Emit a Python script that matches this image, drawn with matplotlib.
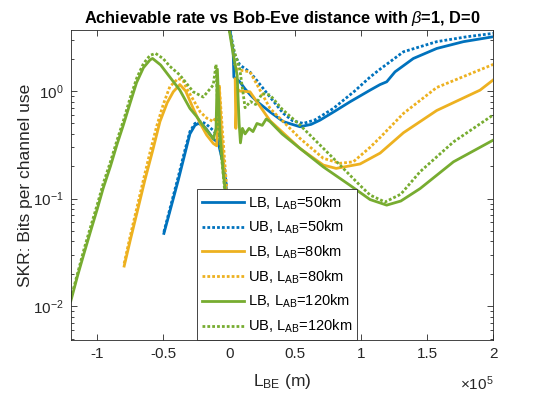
import numpy as np
import matplotlib
matplotlib.use('Agg')
import matplotlib.pyplot as plt
from matplotlib.ticker import FixedLocator, FuncFormatter, LogLocator, NullFormatter

plt.rcParams['font.family'] = ['Liberation Sans', 'DejaVu Sans']
plt.rcParams['mathtext.fontset'] = 'custom'
plt.rcParams['mathtext.rm'] = 'Liberation Sans'
plt.rcParams['mathtext.it'] = 'Liberation Sans:italic'

# x in units of 1e5 m, y in bits per channel use
# L_AB = 50 km
lb50_x_neg = [-0.495, -0.45, -0.386, -0.34, -0.298, -0.26, -0.235, -0.2, -0.171, -0.121, -0.083, -0.05, -0.02]
lb50_y_neg = [0.0475, 0.076, 0.149, 0.25, 0.40, 0.48, 0.50, 0.48, 0.44, 0.36, 0.33, 0.22, 0.12]
lb50_x_pos = [0.005, 0.03, 0.035, 0.06, 0.08, 0.119, 0.16, 0.21, 0.309, 0.41, 0.536, 0.62, 0.688, 0.8,
              0.915, 1.067, 1.143, 1.193, 1.256, 1.395, 1.572, 1.774, 2.0]
lb50_y_pos = [3.7, 2.3, 1.35, 1.28, 1.22, 1.05, 0.92, 0.80, 0.64, 0.52, 0.466, 0.49, 0.537, 0.65,
              0.795, 1.02, 1.15, 1.22, 1.51, 2.01, 2.49, 2.88, 3.2]
ub50_x_neg = [-0.495, -0.45, -0.386, -0.34, -0.298, -0.26, -0.22, -0.18, -0.121, -0.08, -0.05, -0.02]
ub50_y_neg = [0.049, 0.08, 0.16, 0.27, 0.42, 0.50, 0.52, 0.50, 0.43, 0.38, 0.25, 0.13]
ub50_x_pos = [0.005, 0.04, 0.08, 0.157, 0.21, 0.309, 0.41, 0.48, 0.561, 0.65, 0.789, 0.95, 1.067,
              1.143, 1.32, 1.572, 1.8, 2.0]
ub50_y_pos = [3.7, 2.2, 1.75, 1.5, 1.25, 0.88, 0.62, 0.53, 0.50, 0.54, 0.69, 1.0, 1.35,
              1.6, 2.32, 2.88, 3.2, 3.44]

# L_AB = 80 km
lb80_x_neg = [-0.796, -0.75, -0.7, -0.639, -0.58, -0.525, -0.47, -0.424, -0.374, -0.33, -0.273, -0.22,
              -0.171, -0.121, -0.095, -0.076, -0.058, -0.033, -0.02]
lb80_y_neg = [0.0236, 0.041, 0.073, 0.149, 0.28, 0.52, 0.78, 0.985, 1.15, 1.0, 0.69, 0.5,
              0.39, 0.326, 0.31, 1.1, 0.4, 0.134, 0.12]
lb80_x_pos = [0.045, 0.05, 0.06, 0.08, 0.157, 0.309, 0.536, 0.713, 0.81, 0.991, 1.143, 1.32,
              1.572, 1.9, 2.0]
lb80_y_pos = [1.3, 0.45, 1.05, 1.0, 0.985, 0.53, 0.293, 0.205, 0.191, 0.21, 0.265, 0.41,
              0.66, 1.02, 1.27]
ub80_x_neg = [-0.796, -0.75, -0.7, -0.65, -0.6, -0.55, -0.5, -0.45, -0.387, -0.35, -0.323, -0.27,
              -0.22, -0.17, -0.121, -0.09, -0.076, -0.05, -0.02]
ub80_y_neg = [0.025, 0.045, 0.082, 0.15, 0.27, 0.47, 0.75, 1.1, 1.31, 1.25, 1.06, 0.82,
              0.64, 0.56, 0.52, 0.6, 1.14, 0.4, 0.13]
ub80_x_pos = [0.04, 0.06, 0.1, 0.157, 0.309, 0.536, 0.713, 0.839, 0.94, 1.067, 1.143, 1.32, 1.572, 2.0]
ub80_y_pos = [1.8, 1.6, 1.55, 1.51, 0.69, 0.363, 0.237, 0.213, 0.22, 0.30, 0.37, 0.62, 1.08, 1.77]

# L_AB = 120 km
lb120_x_neg = [-1.2, -1.15, -1.1, -1.05, -1.0, -0.955, -0.9, -0.85, -0.803, -0.75, -0.702, -0.65,
               -0.6, -0.581, -0.52, -0.45, -0.374, -0.298, -0.247, -0.2, -0.15, -0.12, -0.1, -0.09,
               -0.07, -0.045, -0.03]
lb120_y_neg = [0.0112, 0.019, 0.031, 0.05, 0.08, 0.125, 0.2, 0.32, 0.48, 0.78, 1.2, 1.65,
               1.95, 2.01, 1.75, 1.35, 1.02, 0.69, 0.58, 0.48, 0.40, 0.36, 0.45, 1.6,
               0.4, 0.17, 0.12]
lb120_x_pos = [0.0, 0.03, 0.06, 0.075, 0.085, 0.1, 0.12, 0.15, 0.18, 0.21, 0.25, 0.28, 0.309, 0.4,
               0.536, 0.713, 0.915, 1.067, 1.193, 1.3, 1.446, 1.699, 2.0]
lb120_y_pos = [3.7, 2.2, 1.4, 0.5, 0.33, 0.45, 0.40, 0.45, 0.42, 0.5, 0.48, 0.55, 0.52, 0.40,
               0.293, 0.197, 0.133, 0.098, 0.087, 0.095, 0.124, 0.22, 0.35]
ub120_x_neg = [-1.2, -1.15, -1.1, -1.05, -1.0, -0.955, -0.9, -0.85, -0.8, -0.75, -0.7, -0.65,
               -0.6, -0.558, -0.5, -0.45, -0.374, -0.273, -0.197, -0.121, -0.1, -0.083, -0.045, -0.035]
ub120_y_neg = [0.0118, 0.02, 0.034, 0.055, 0.088, 0.138, 0.22, 0.35, 0.54, 0.87, 1.33, 1.8,
               2.15, 2.24, 2.0, 1.7, 1.41, 0.985, 0.88, 1.14, 1.77, 0.48, 0.166, 0.12]
ub120_x_pos = [0.0, 0.04, 0.08, 0.12, 0.16, 0.2, 0.25, 0.309, 0.4, 0.536, 0.789, 0.99, 1.067,
               1.18, 1.3, 1.446, 1.699, 2.0]
ub120_y_pos = [3.7, 2.3, 1.6, 0.7, 0.8, 0.75, 0.95, 0.92, 0.68, 0.483, 0.237, 0.133, 0.108,
               0.093, 0.11, 0.178, 0.337, 0.60]

labels = [r'LB, L$_{\mathrm{AB}}$=50km', r'UB, L$_{\mathrm{AB}}$=50km',
          r'LB, L$_{\mathrm{AB}}$=80km', r'UB, L$_{\mathrm{AB}}$=80km',
          r'LB, L$_{\mathrm{AB}}$=120km', r'UB, L$_{\mathrm{AB}}$=120km']
colors = ['#0072BD', '#0072BD', '#EDB120', '#EDB120', '#77AC30', '#77AC30']
dotted = (0, (1, 0.75))
styles = ['-', dotted, '-', dotted, '-', dotted]

series = [
    (lb50_x_neg, lb50_y_neg, lb50_x_pos, lb50_y_pos),
    (ub50_x_neg, ub50_y_neg, ub50_x_pos, ub50_y_pos),
    (lb80_x_neg, lb80_y_neg, lb80_x_pos, lb80_y_pos),
    (ub80_x_neg, ub80_y_neg, ub80_x_pos, ub80_y_pos),
    (lb120_x_neg, lb120_y_neg, lb120_x_pos, lb120_y_pos),
    (ub120_x_neg, ub120_y_neg, ub120_x_pos, ub120_y_pos),
]

fig = plt.figure(figsize=(5.45, 3.96), dpi=100)
ax = fig.add_axes([0.130, 0.141, 0.775, 0.783])

for (xn, yn, xp, yp), lab, c, ls in zip(series, labels, colors, styles):
    # gap between the two branches is a NaN, so one handle per series
    x = np.concatenate([np.array(xn), [np.nan], np.array(xp)]) * 1e5
    y = np.concatenate([np.array(yn), [np.nan], np.array(yp)])
    ax.plot(x, y, color=c, linestyle=ls, lw=2.0, label=lab)

ax.set_yscale('log')
ax.set_xlim(-1.2e5, 2e5)
ax.set_ylim(0.00483, 3.69)
ax.xaxis.set_major_locator(FixedLocator([-1e5, -0.5e5, 0, 0.5e5, 1e5, 1.5e5, 2e5]))
ax.xaxis.set_major_formatter(FuncFormatter(lambda v, p: '%g' % (v / 1e5)))
ax.yaxis.set_major_locator(LogLocator(base=10, numticks=10))
ax.yaxis.set_minor_locator(LogLocator(base=10, subs=np.arange(2, 10), numticks=20))
ax.yaxis.set_minor_formatter(NullFormatter())

ax.tick_params(which='both', direction='in', top=True, right=True, labelsize=11,
               colors='#262626', labelcolor='#262626')
ax.tick_params(which='major', length=4, width=0.6, pad=5)
ax.tick_params(which='minor', length=2, width=0.6)
for s in ax.spines.values():
    s.set_color('#262626')
    s.set_linewidth(0.6)

ax.set_title(r'Achievable rate vs Bob-Eve distance with $\it{\beta}$=1, D=0',
             fontsize=11.8, fontweight='bold', pad=5)
ax.set_ylabel('SKR: Bits per channel use', fontsize=12.5, color='#262626', labelpad=0)
ax.set_xlabel(r'L$_{\mathrm{BE}}$ (m)', fontsize=12.5, color='#262626', labelpad=8)
ax.text(1.0, -0.11, r'$\times10^{5}$', transform=ax.transAxes, ha='right', va='top',
        fontsize=11, color='#262626')

leg = ax.legend(loc='lower left', bbox_to_anchor=(0.2986, 0.0), borderaxespad=0,
                fontsize=10.5, handlelength=2.9, labelspacing=0.5, handletextpad=0.25,
                borderpad=0.35, fancybox=False, framealpha=1.0)
leg.get_frame().set_edgecolor('#262626')
leg.get_frame().set_linewidth(0.6)

fig.savefig('out.png', dpi=100)
